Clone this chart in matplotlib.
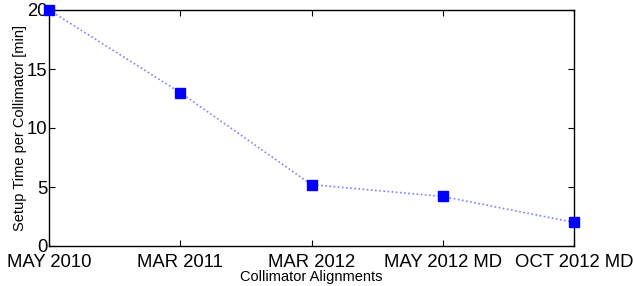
import matplotlib
matplotlib.use("Agg")
import matplotlib.pyplot as plt

categories = ["MAY 2010", "MAR 2011", "MAR 2012", "MAY 2012 MD", "OCT 2012 MD"]
setup_time = [20.0, 13.0, 5.2, 4.2, 2.0]

plt.rcParams['font.family'] = ['Liberation Sans', 'DejaVu Sans']

fig = plt.figure(figsize=(6.33, 2.86), dpi=100)
ax = fig.add_axes([49/633, 1 - 246/286, (574-49)/633, (246-10)/286])

x = list(range(len(categories)))
ax.plot(x, setup_time, linestyle=(0, (1, 1.5)), color='#8080ff', linewidth=1.2, zorder=2)
ax.plot(x, setup_time, linestyle='none', marker='s', markersize=7.5,
        color='#0000ff', markeredgecolor='#0000ff', zorder=3, clip_on=False)

ax.set_xlim(0, len(categories) - 1)
ax.set_ylim(0, 20)
ax.set_xticks(x)
ax.set_xticklabels(categories, fontsize=13.3)
ax.set_yticks([0, 5, 10, 15, 20])
ax.tick_params(axis='both', direction='in', top=True, right=True, length=4,
               labelsize=13.3, pad=1)
ax.tick_params(axis='x', pad=6)
ax.set_xlabel("Collimator Alignments", fontsize=10.5, labelpad=-1)
ax.set_ylabel("Setup Time per Collimator [min]", fontsize=10.5, labelpad=0)
for s in ax.spines.values():
    s.set_linewidth(1.0)

fig.savefig("out.png", dpi=100)
